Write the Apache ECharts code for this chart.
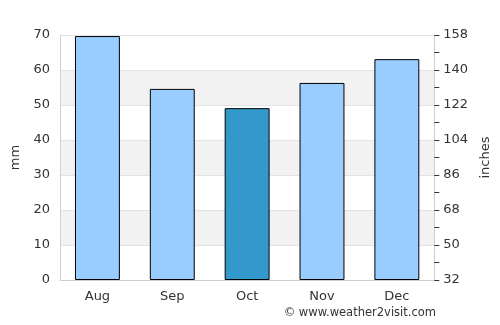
<!DOCTYPE html>
<html>
<head>
    <meta charset="utf-8">
    <title>Rainfall</title>
    <script src="https://cdn.jsdelivr.net/npm/echarts@6/dist/echarts.min.js"></script>
    <style>
        html, body { margin: 0; padding: 0; background: #fff; }
        #chart { width: 500px; height: 325px; }
    </style>
</head>
<body>
    <div id="chart"></div>
    <script>
        const months = ['Aug', 'Sep', 'Oct', 'Nov', 'Dec'];
        const rainMm = [69.7, 54.6, 49.1, 56.3, 63.1];
        const highlightIndex = 2; // Oct is darker

        const chart = echarts.init(document.getElementById('chart'));

        const labelStyle = { color: '#333', fontSize: 13, fontFamily: 'DejaVu Sans' };

        chart.setOption({
            animation: false,
            grid: { left: 60, right: 65, top: 35, bottom: 45 },
            xAxis: {
                type: 'category',
                data: months,
                axisLine: { lineStyle: { color: '#d0d0d0' } },
                axisTick: { show: false },
                axisLabel: Object.assign({ margin: 10 }, labelStyle)
            },
            yAxis: [{
                type: 'value',
                min: 0, max: 70, interval: 10,
                name: 'mm',
                nameLocation: 'middle',
                nameGap: 38,
                nameTextStyle: labelStyle,
                axisLine: { show: true, lineStyle: { color: '#d0d0d0' } },
                axisTick: { show: false },
                axisLabel: Object.assign({ margin: 10 }, labelStyle),
                splitLine: { lineStyle: { color: '#e3e3e3' } },
                splitArea: { show: true, areaStyle: { color: ['#ffffff', '#f2f2f2'] } }
            }, {
                type: 'value',
                min: 0, max: 70, interval: 10,
                position: 'right',
                name: 'inches',
                nameLocation: 'middle',
                nameGap: 38,
                nameRotate: 90,
                nameTextStyle: labelStyle,
                axisLine: { show: true, lineStyle: { color: '#d0d0d0' } },
                axisTick: { show: true, length: 5, lineStyle: { color: '#333' } },
                minorTick: { show: true, splitNumber: 2, length: 5, lineStyle: { color: '#333' } },
                axisLabel: Object.assign({
                    margin: 9,
                    formatter: v => String(Math.round(v * 1.8 + 32))
                }, labelStyle),
                splitLine: { show: false }
            }],
            series: [{
                type: 'bar',
                barWidth: '60%',
                data: rainMm.map((v, i) => ({
                    value: v,
                    itemStyle: { color: i === highlightIndex ? '#3399cc' : '#99ccff' }
                })),
                itemStyle: { borderColor: '#000', borderWidth: 1 }
            }],
            graphic: [{
                type: 'text',
                right: 64,
                top: 307,
                style: {
                    text: '© www.weather2visit.com',
                    fill: '#333',
                    font: '11.5px "DejaVu Sans"'
                }
            }]
        });
    </script>
</body>
</html>
